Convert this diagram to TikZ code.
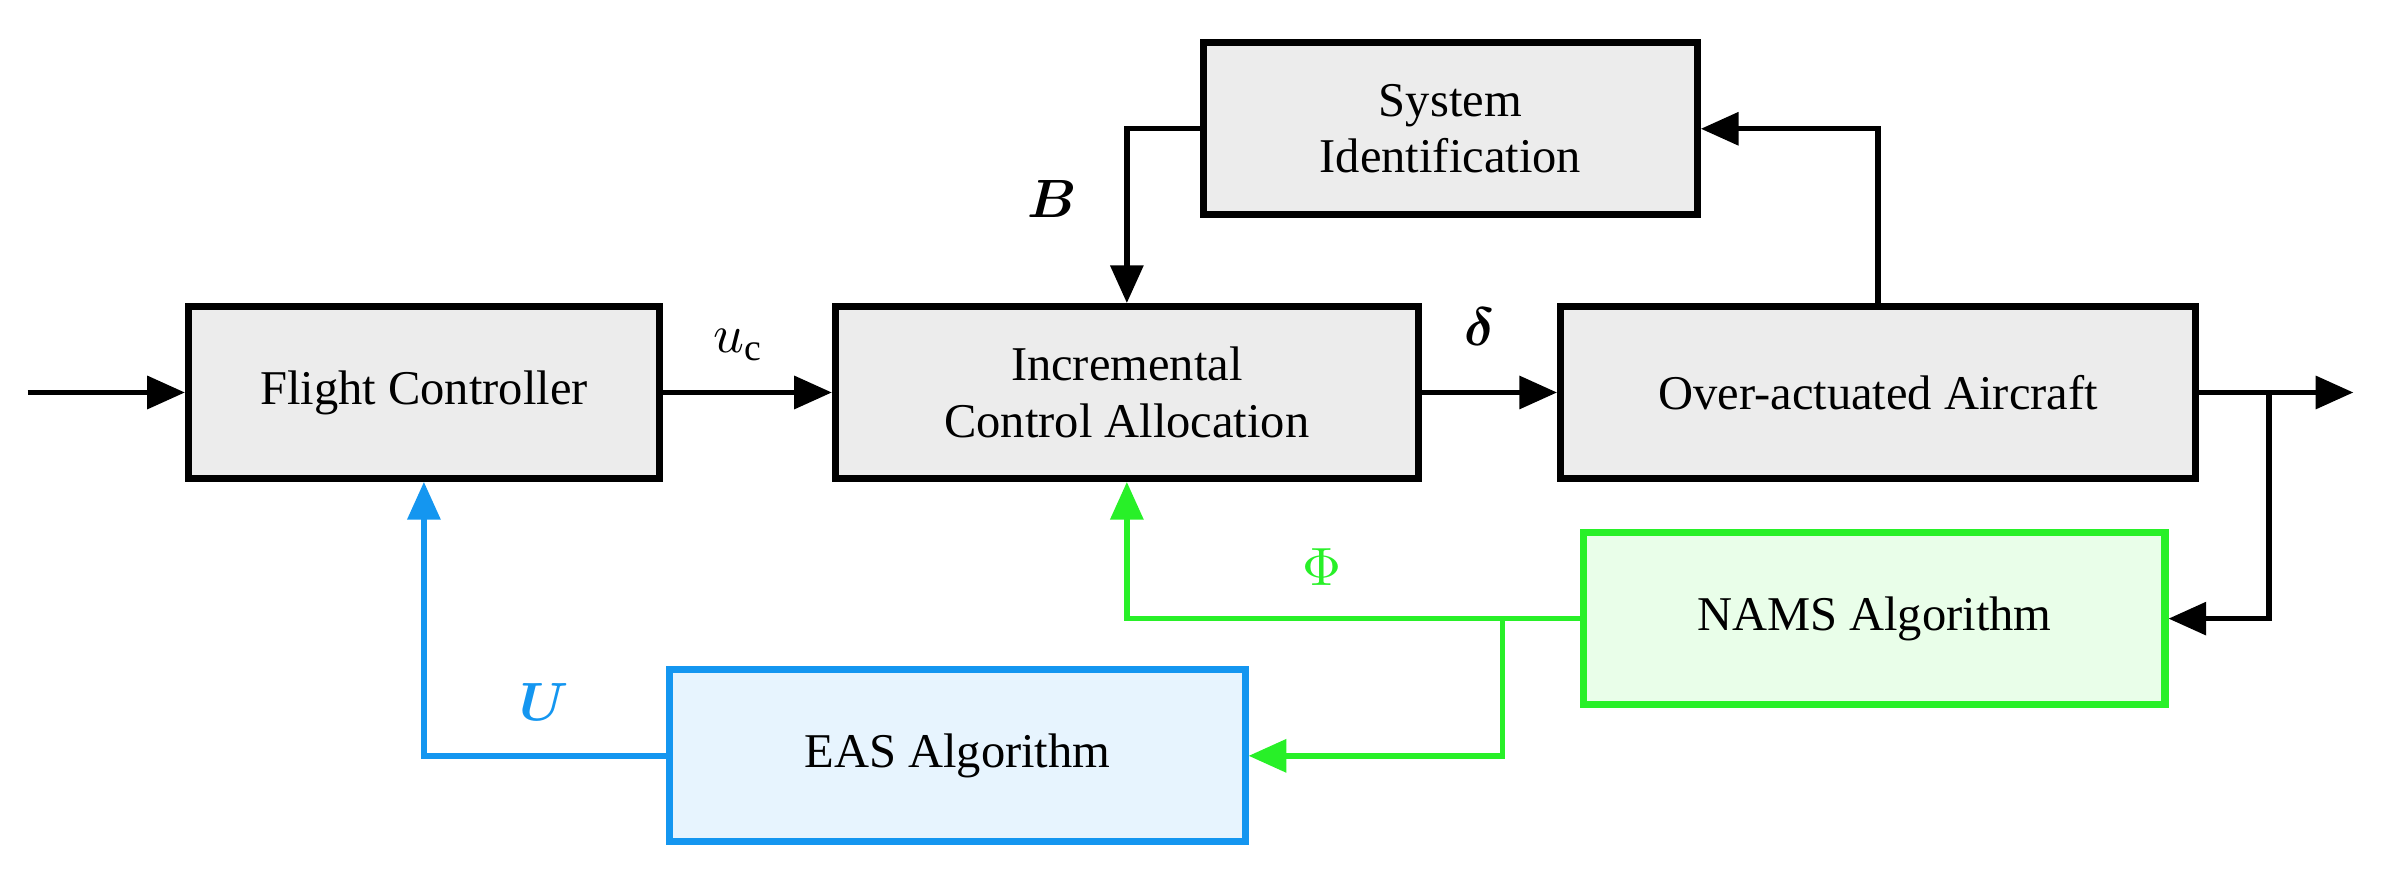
\documentclass[tikz,border=0pt]{standalone}
\usepackage{amsmath,bm}
\usepackage{fontspec}
\setmainfont{Liberation Serif}
\usetikzlibrary{arrows.meta}
\definecolor{gr}{RGB}{40,240,40}
\definecolor{bl}{RGB}{20,150,240}
\begin{document}
\begin{tikzpicture}[x=0.01cm,y=-0.01cm,
 box/.style={draw,line width=1.3pt,fill=gray!15,minimum width=#1,minimum height=1.12cm,align=center,font=\fontsize{9}{10.5}\selectfont,inner sep=0pt},
 ln/.style={line width=1pt,-{Triangle[length=7pt,width=6pt]}},
 lab/.style={font=\fontsize{10}{12}\selectfont\bfseries\itshape}]
\useasboundingbox (0,0) rectangle (1568,570);
\node[box=3.07cm] (fc) at (276.5,256) {Flight Controller};
\node[box=3.8cm] (ica) at (735,256) {Incremental\\Control Allocation};
\node[box=4.14cm] (oa) at (1225,256) {Over-actuated Aircraft};
\node[box=3.22cm] (sid) at (946,84) {System\\Identification};
\node[box=3.79cm,draw=gr,fill=gr!10] (nams) at (1222.5,403.5) {NAMS Algorithm};
\node[box=3.75cm,draw=bl,fill=bl!10] (eas) at (624.5,493) {EAS Algorithm};
\coordinate (in) at (18,256);
\coordinate (out) at (1535,256);
\draw[ln] (in) -- (fc);
\draw[ln] (fc) -- node[above,pos=0.45,yshift=2pt,font=\fontsize{10}{12}\selectfont]{$u_{\mathrm{c}}$} (ica);
\draw[ln] (ica) -- (oa);
\node[lab] at (965,213) {$\bm{\delta}$};
\draw[ln] (oa.east) -- (out);
\draw[ln] (1480,256) |- (nams.east);
\draw[ln] (oa.north) |- (sid.east);
\draw[ln] (sid.west) -| (ica.north);
\node[lab] at (686,130) {$\bm{B}$};
\draw[ln,draw=gr,-{Triangle[length=7pt,width=6pt,fill=gr]}] (nams.west) -| (ica.south);
\draw[ln,draw=gr] (980,404) |- (eas.east);
\node[font=\fontsize{10}{12}\selectfont,text=gr] at (862,370) {$\Phi$};
\draw[ln,draw=bl] (eas.west) -| (fc.south);
\node[lab,text=bl] at (355,458) {$\bm{U}$};
\end{tikzpicture}
\end{document}
